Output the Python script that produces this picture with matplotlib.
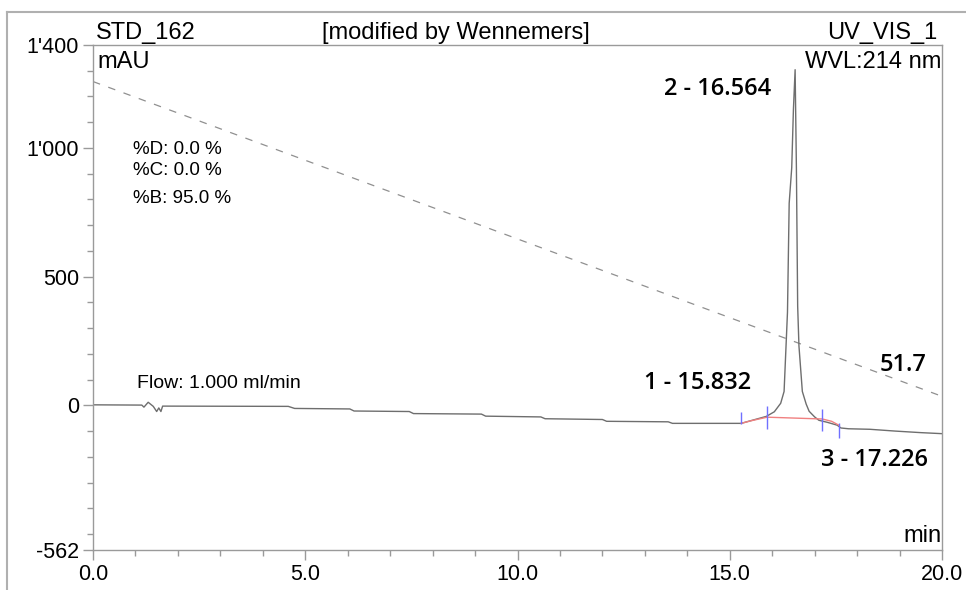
import matplotlib
matplotlib.use("Agg")
import matplotlib.pyplot as plt
from matplotlib.lines import Line2D

# chromatogram trace (time in min, signal in mAU)
sig_t = [0.0, 1.15, 1.2, 1.3, 1.42, 1.5, 1.55, 1.6, 1.64, 1.7, 4.6, 4.75,
         6.05, 6.15, 7.45, 7.55, 9.15, 9.25, 10.55, 10.65, 12.0, 12.1,
         13.55, 13.65, 15.27, 15.53, 15.86, 16.05, 16.2, 16.28, 16.36, 16.4,
         16.46, 16.5, 16.54, 16.57, 16.6, 16.63, 16.71, 16.8, 16.87, 17.0,
         17.1, 17.3, 17.53, 17.62, 17.8, 18.3, 18.9, 19.5, 20.0]
sig_y = [2, 1, -7, 12, -4, -24, -10, -24, -3, -3, -4, -12,
         -14, -22, -24, -32, -34, -42, -45, -52, -55, -62,
         -64, -70, -70, -58, -43, -25, 8, 54, 362, 785,
         923, 1150, 1304, 923, 385, 231, 54, 5, -23, -45,
         -58, -66, -77, -88, -91, -93, -100, -106, -110]

# gradient (%B) line
grad_t = [0.0, 20.0]
grad_y = [1258, 35]

# integration baseline and peak boundary marks
base_t = [15.27, 15.5, 15.88, 17.18, 17.4, 17.58]
base_y = [-70, -60, -46, -53, -62, -78]
bound_t = [15.27, 15.88, 17.18, 17.58]
bound_lo = [-73, -92, -100, -127]
bound_hi = [-27, -4, -15, -69]

peak_labels = ["1 - 15.832", "2 - 16.564", "3 - 17.226"]

xticks = [0, 5, 10, 15, 20]
xticklabels = ["0.0", "5.0", "10.0", "15.0", "20.0"]
yticks = [-562, 0, 500, 1000, 1400]
yticklabels = ["-562", "0", "500", "1'000", "1'400"]

plt.rcParams['font.family'] = ['Liberation Sans', 'DejaVu Sans']

fig = plt.figure(figsize=(9.66, 5.90), dpi=100)
ax = fig.add_axes([93/966, 1 - 550/590, (942 - 93)/966, (550 - 45)/590])

axis_col = "#9a9a9a"
ax.plot(grad_t, grad_y, color="#909090", lw=0.9, dashes=(6, 7))
ax.plot(sig_t, sig_y, color="#6e6e6e", lw=1.0)
ax.plot(base_t, base_y, color="#f08080", lw=1.0)
ax.vlines(bound_t, bound_lo, bound_hi, color="#7070ff", lw=1.0)

ax.set_xlim(0, 20)
ax.set_ylim(-562, 1400)

ax.set_xticks(xticks)
ax.set_xticklabels(xticklabels)
ax.set_xticks(range(0, 21), minor=True)
ax.set_yticks(yticks)
ax.set_yticklabels(yticklabels)
ax.set_yticks(range(-500, 1400, 100), minor=True)
ax.tick_params(which="major", length=7, width=1, color=axis_col,
               labelsize=15.5, pad=3)
ax.tick_params(which="minor", length=4, width=1, color=axis_col)

for s in ax.spines.values():
    s.set_color(axis_col)
    s.set_linewidth(1.0)

# header texts
hd = dict(transform=ax.transAxes, fontsize=17, va="center")
ax.text(0.003, 1.024, "STD_162", ha="left", **hd)
ax.text(0.4276, 1.024, "[modified by Wennemers]", ha="center", **hd)
ax.text(0.995, 1.024, "UV_VIS_1", ha="right", **hd)
ax.text(0.005, 0.967, "mAU", ha="left", **hd)
ax.text(0.999, 0.967, "WVL:214 nm", ha="right", **hd)
ax.text(0.999, 0.027, "min", ha="right", **hd)

# method info
ax.text(0.047, 0.793, "%D: 0.0 %", transform=ax.transAxes, fontsize=13.5,
        va="center")
ax.text(0.047, 0.752, "%C: 0.0 %", transform=ax.transAxes, fontsize=13.5,
        va="center")
ax.text(0.047, 0.697, "%B: 95.0 %", transform=ax.transAxes, fontsize=13.5,
        va="center")
ax.text(0.052, 0.329, "Flow: 1.000 ml/min", transform=ax.transAxes,
        fontsize=14, va="center")

# peak labels
pk = dict(family=["Open Sans", "DejaVu Sans"], fontsize=17, weight="semibold")
ax.text(15.5, 85, peak_labels[0], ha="right", va="center", **pk)
ax.text(15.98, 1228, peak_labels[1], ha="right", va="center", **pk)
ax.text(17.15, -212, peak_labels[2], ha="left", va="center", **pk)
ax.text(18.52, 158, "51.7", ha="left", va="center", **pk)

# outer frame
fig.add_artist(Line2D([7/966, 1.0], [1 - 12/590, 1 - 12/590],
                      color="#b0b0b0", lw=1.5))
fig.add_artist(Line2D([7/966, 7/966], [0, 1 - 12/590],
                      color="#b0b0b0", lw=1.5))

fig.savefig("out.png", dpi=100)
